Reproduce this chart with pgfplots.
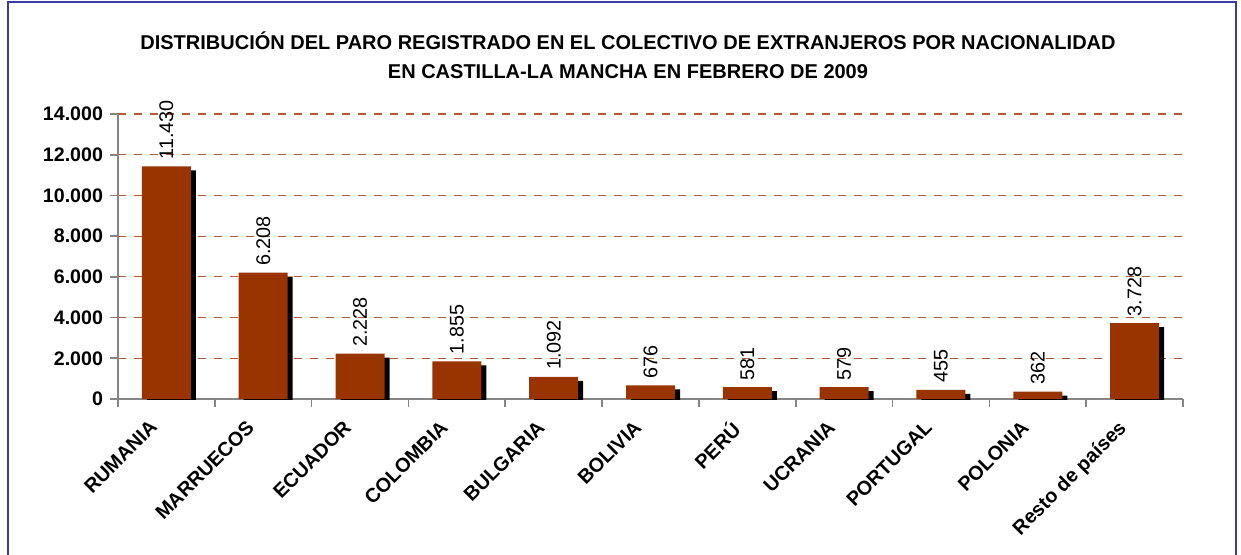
\documentclass[border=0pt]{standalone}
\usepackage{pgfplots}
\pgfplotsset{compat=1.18}
\usepackage{fontspec}
\setmainfont{Liberation Sans}
\definecolor{barbrown}{HTML}{993300}
\definecolor{frameblue}{HTML}{3B3BA3}
\definecolor{axisgray}{HTML}{858585}
\begin{document}
\begin{tikzpicture}[x=1pt,y=1pt]
\useasboundingbox (-59,-77.5) rectangle (561.5,199.5);
\draw[frameblue, line width=1pt] (-55,-95) rectangle (559,198.5);
\node[align=center, font=\bfseries\fontsize{10}{14.5}\selectfont] at (255,172)
  {DISTRIBUCIÓN DEL PARO REGISTRADO EN EL COLECTIVO DE EXTRANJEROS POR NACIONALIDAD\\EN CASTILLA-LA MANCHA EN FEBRERO DE 2009};
\begin{axis}[
  at={(0,0)}, anchor=south west,
  scale only axis, width=532.5pt, height=142.5pt,
  xmin=-0.5, xmax=10.5, ymin=0, ymax=14000,
  ytick={0,2000,...,14000},
  scaled y ticks=false,
  xtick={0,...,10},
  xticklabels={RUMANIA,MARRUECOS,ECUADOR,COLOMBIA,BULGARIA,BOLIVIA,PERÚ,UCRANIA,PORTUGAL,POLONIA,Resto de países},
  minor xtick={-0.5,0.5,...,10.5},
  major x tick style={draw=none},
  tick align=outside,
  major tick length=4pt, minor tick length=4pt,
  tick style={axisgray, line width=0.8pt},
  axis x line*=bottom, axis y line*=left,
  axis line style={axisgray, line width=0.8pt},
  ymajorgrids,
  grid style={barbrown!80, dash pattern=on 4pt off 4pt, line width=0.6pt},
  /pgf/number format/.cd, 1000 sep={.}, assume math mode=true,
  /pgfplots/.cd,
  yticklabel style={font=\bfseries\fontsize{9.8}{11}\selectfont},
  xticklabel style={font=\bfseries\fontsize{9.9}{11}\selectfont, rotate=45, anchor=north east, xshift=-7pt, yshift=5.5pt},
  ybar, bar width=24.5pt,
]
\addplot[fill=black, draw=none, bar shift=2.5pt, yshift=-2pt] coordinates {
 (0,11430) (1,6208) (2,2228) (3,1855) (4,1092) (5,676) (6,581) (7,579) (8,455) (9,362) (10,3728)};
\addplot[fill=barbrown, draw=none, bar shift=0pt,
  nodes near coords,
  nodes near coords style={rotate=90, anchor=west, black, font=\fontsize{9.9}{11}\selectfont, /pgf/number format/1000 sep={.}, /pgf/number format/assume math mode=true}] coordinates {
 (0,11430) (1,6208) (2,2228) (3,1855) (4,1092) (5,676) (6,581) (7,579) (8,455) (9,362) (10,3728)};
\end{axis}
\end{tikzpicture}
\end{document}
